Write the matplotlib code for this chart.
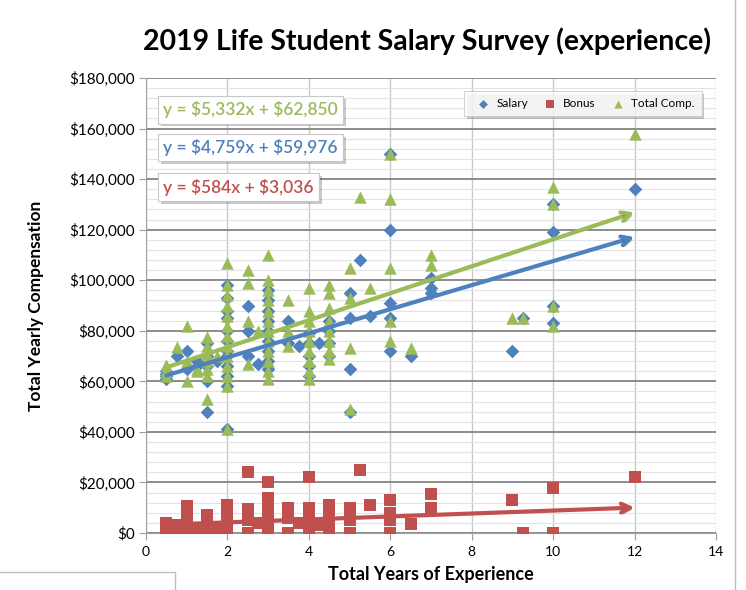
import matplotlib.pyplot as plt
import matplotlib.patheffects as pe
from matplotlib.lines import Line2D
from matplotlib.ticker import FuncFormatter, MultipleLocator
import numpy as np

# ---------------- dados ----------------
salary_years = [0.5, 0.5, 0.5, 0.5, 0.75, 1, 1, 1.25, 1.25,
                1.5, 1.5, 1.5, 1.5, 1.5, 1.75,
                2, 2, 2, 2, 2, 2, 2, 2, 2, 2, 2, 2,
                2.5, 2.5, 2.5, 2.75,
                3, 3, 3, 3, 3, 3, 3, 3, 3,
                3.5, 3.5, 3.75, 4, 4, 4, 4, 4, 4.25,
                4.5, 4.5, 4.5, 4.5, 5, 5, 5, 5, 5.25, 5.5,
                6, 6, 6, 6, 6, 6.5, 7, 7, 7, 9, 9.25, 10, 10, 10, 10, 12]
salary = [61, 62, 63, 64, 70, 72, 65, 66, 68,
          75, 70, 66, 60, 48, 68,
          98, 93, 88, 85, 80, 76, 72, 70, 66, 62, 58, 41,
          90, 80, 70, 67,
          96, 92, 88, 84, 80, 76, 72, 68, 65,
          84, 75, 74, 79, 75, 70, 66, 62, 75,
          84, 80, 75, 70, 95, 85, 65, 48, 108, 86,
          150, 120, 91, 85, 72, 70, 101, 97, 95, 72, 85, 130, 119, 90, 83, 136]

bonus_years = [0.5, 0.5, 0.5, 0.5, 0.75, 0.75, 1, 1, 1, 1, 1, 1.25, 1.25,
               1.5, 1.5, 1.5, 1.5, 1.75, 2, 2, 2, 2, 2,
               2.5, 2.5, 2.5, 2.5, 2.75, 3, 3, 3, 3, 3, 3, 3,
               3.5, 3.5, 3.5, 3.75, 4, 4, 4, 4, 4, 4, 4.25,
               4.5, 4.5, 4.5, 4.5, 5, 5, 5, 5.25, 5.5,
               6, 6, 6, 6, 6.5, 7, 7, 9, 9.25, 10, 10, 12]
bonus = [0, 1.5, 3, 4, 1, 3, 10.5, 6, 3, 1, 0, 2, 0,
         7, 4.5, 2, 0, 2, 11, 8, 5, 2.5, 0,
         24, 9.5, 5, 0, 4, 20, 14, 10, 7, 4, 1, 0,
         10, 6, 0, 4, 22, 10, 7, 4, 1, 0, 3,
         11, 7, 4, 0, 10, 5, 0, 25, 11,
         13, 8, 5, 0, 3.5, 15.5, 10, 13, 0, 18, 0, 22]

total_years = [0.5, 0.5, 0.5, 0.75, 1, 1, 1, 1.25, 1.25,
               1.5, 1.5, 1.5, 1.5, 1.5, 1.5, 1.5, 1.75,
               2, 2, 2, 2, 2, 2, 2, 2, 2, 2, 2, 2, 2,
               2.5, 2.5, 2.5, 2.5, 2.75,
               3, 3, 3, 3, 3, 3, 3, 3, 3, 3, 3, 3,
               3.5, 3.5, 3.5, 4, 4, 4, 4, 4, 4, 4, 4, 4,
               4.5, 4.5, 4.5, 4.5, 4.5, 4.5, 4.5, 4.5,
               5, 5, 5, 5, 5.25, 5.5, 6, 6, 6, 6, 6, 6.5, 7, 7,
               9, 9.25, 10, 10, 10, 10, 12]
total = [62, 64, 66.5, 73.5, 82, 68, 60, 65, 64,
         77.5, 74, 71, 68, 65, 62, 53, 70,
         107, 98, 94, 90, 86, 82, 78, 74, 70, 66, 62, 58, 41,
         104, 99, 84, 67, 80,
         110, 100, 96, 92, 88, 84, 80, 76, 72, 68, 64, 61,
         92, 80, 74, 97, 88, 84, 80, 76, 72, 68, 64, 61,
         98, 95, 89, 84, 80, 76, 72, 69,
         105, 93, 73, 49, 133, 97, 150, 132, 105, 84, 76, 73, 110, 106,
         85, 85, 137, 130, 90, 82, 158]

# linhas de tendência (equações mostradas no gráfico)
trend_names = ['Salary', 'Bonus', 'Total Comp.']
trend_slope = [4759, 584, 5332]
trend_intercept = [59976, 3036, 62850]
trend_x = [0.5, 12]

# ---------------- estilo ----------------
AZUL = '#4F81BD'
VERMELHO = '#C0504D'
VERDE = '#9BBB59'
FONTE = 'Lato'
plt.rcParams['font.family'] = [FONTE, 'DejaVu Sans']

fig = plt.figure(figsize=(7.46, 5.90), dpi=100)
ax = fig.add_axes([0.1957, 0.0966, 0.7641, 0.7712])

k = 1000
ax.scatter(salary_years, np.array(salary) * k, marker='D', s=48, color=AZUL,
           label='Salary', zorder=3, linewidths=0)
ax.scatter(bonus_years, np.array(bonus) * k, marker='s', s=85, color=VERMELHO,
           label='Bonus', zorder=3, linewidths=0)
ax.scatter(total_years, np.array(total) * k, marker='^', s=80, color=VERDE,
           label='Total Comp.', zorder=3, linewidths=0)

# setas de tendência
cores = [AZUL, VERMELHO, VERDE]
for m, b, cor in zip(trend_slope, trend_intercept, cores):
    x0, x1 = trend_x
    ann = ax.annotate('', xy=(x1, m * x1 + b), xytext=(x0, m * x0 + b),
                      arrowprops=dict(arrowstyle='->', lw=3, color=cor,
                                      shrinkA=0, shrinkB=0, mutation_scale=16,
                                      capstyle='round'),
                      zorder=4)
    ann.arrow_patch.set_path_effects([
        pe.SimplePatchShadow(offset=(1.5, -1.5), alpha=0.35), pe.Normal()])

# rótulos das equações
rotulos = [(VERDE, 5332, 62850, 0.93), (AZUL, 4759, 59976, 0.847), (VERMELHO, 584, 3036, 0.76)]
for cor, m, b, ypos in rotulos:
    t = ax.text(0.03, ypos, f'y = \\${m:,}x + \\${b:,}', transform=ax.transAxes,
                color=cor, fontsize=12.5, fontweight='semibold', va='center', ha='left',
                zorder=6,
                bbox=dict(boxstyle='square,pad=0.3', fc='white', ec='#C8C8C8', lw=0.8))
    t.get_bbox_patch().set_path_effects([
        pe.SimplePatchShadow(offset=(2, -2), alpha=0.3), pe.Normal()])

# eixos
ax.set_xlim(0, 14)
ax.set_ylim(0, 180000)
ax.xaxis.set_major_locator(MultipleLocator(2))
ax.yaxis.set_major_locator(MultipleLocator(20000))
ax.yaxis.set_minor_locator(MultipleLocator(4000))
ax.yaxis.set_major_formatter(FuncFormatter(lambda v, p: f'\\${v:,.0f}'))
ax.tick_params(axis='y', labelsize=11, length=5, color='#A0A0A0', pad=3)
ax.tick_params(axis='x', labelsize=10, length=5, color='#A0A0A0', pad=4)
ax.tick_params(which='minor', length=0)

ax.grid(True, which='major', axis='y', color='#8C8C8C', lw=1.4, zorder=1)
ax.grid(True, which='minor', axis='y', color='#E3E3E3', lw=0.8, zorder=0)
ax.grid(True, which='major', axis='x', color='#C8C8C8', lw=1.0, zorder=1)
ax.set_axisbelow(True)
for lado in ['top', 'right']:
    ax.spines[lado].set_visible(False)
for lado in ['left', 'bottom']:
    ax.spines[lado].set_color('#A0A0A0')

ax.set_xlabel('Total Years of Experience', fontsize=13, fontweight='bold', labelpad=6)
ax.set_ylabel('Total Yearly Compensation', fontsize=12.5, fontweight='bold', labelpad=18)
fig.text(0.572, 0.93, '2019 Life Student Salary Survey (experience)', ha='center',
         va='center', fontsize=20.5, fontweight='bold')

leg = ax.legend(loc='upper right', bbox_to_anchor=(0.985, 0.985), ncol=3, fontsize=8.5,
                frameon=True, fancybox=False, handletextpad=0.1, columnspacing=0.9,
                markerscale=0.65, borderpad=0.6, edgecolor='#C8C8C8')
leg.get_frame().set_linewidth(0.8)
leg.get_frame().set_path_effects([pe.SimplePatchShadow(offset=(2, -2), alpha=0.3), pe.Normal()])
leg.set_zorder(6)

# bordas da imagem original
fig.add_artist(Line2D([0.985, 0.985], [0, 1], color='#BDBDBD', lw=1))
fig.add_artist(Line2D([0, 0.2346, 0.2346], [0.0305, 0.0305, 0], color='#BDBDBD', lw=1))

plt.savefig('out.png', dpi=100)
